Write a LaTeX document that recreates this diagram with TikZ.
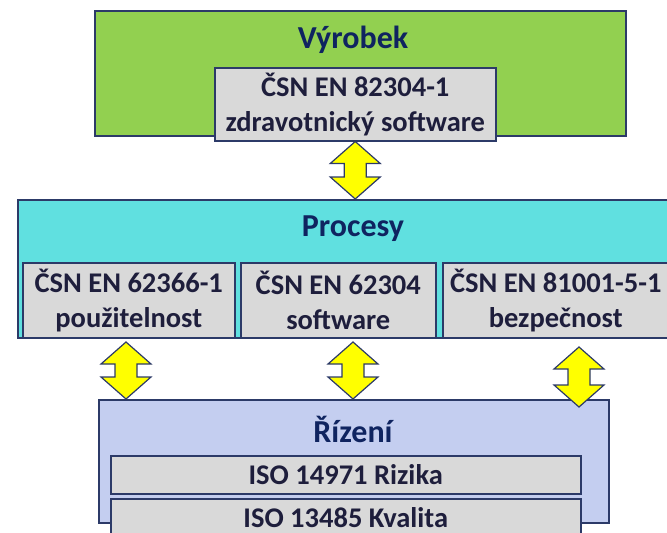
\documentclass[tikz,border=0pt]{standalone}
\usepackage{fontspec}
\setmainfont{Carlito}
\usetikzlibrary{calc}
\definecolor{LineBlue}{HTML}{2C3A68}
\definecolor{TitleBlue}{HTML}{0F2460}
\definecolor{NormText}{HTML}{1E1E3C}
\definecolor{ProductGreen}{HTML}{92D050}
\definecolor{ProcessCyan}{HTML}{60E0E0}
\definecolor{ControlBlue}{HTML}{C4CEF0}
\definecolor{NormGrey}{HTML}{D9D9D9}
\definecolor{ArrowYellow}{HTML}{FFFF00}

\newcommand\UpDownArrow[2]{% #1 top tip, #2 bottom tip
  \draw[ArrowStyle] (#1) -- ($(#1)+(25,22)$) -- ($(#1)+(11,22)$)
    -- ($(#2)+(11,-22)$) -- ($(#2)+(25,-22)$) -- (#2)
    -- ($(#2)+(-25,-22)$) -- ($(#2)+(-11,-22)$)
    -- ($(#1)+(-11,22)$) -- ($(#1)+(-25,22)$) -- cycle;}

\begin{document}
\begin{tikzpicture}[x=1pt,y=-1pt]
  \tikzset{LayerStyle/.style={draw=LineBlue,line width=1.5pt,anchor=north west,inner sep=0pt},
    NormStyle/.style={draw=LineBlue,line width=1.5pt,fill=NormGrey,anchor=north west,
      inner sep=0pt,align=center,text=NormText,font=\bfseries\fontsize{28.5}{35}\selectfont},
    TitleStyle/.style={text=TitleBlue,font=\bfseries\fontsize{32}{36}\selectfont},
    ArrowStyle/.style={draw=LineBlue,line width=1.2pt,fill=ArrowYellow,line join=miter}
  }
  \useasboundingbox (0,0) rectangle (667,533);
  % Vyrobek
  \node[LayerStyle,fill=ProductGreen,minimum width=531pt,minimum height=125pt] (prod) at (94,10) {};
  \node[TitleStyle] (prodtitle) at (353,40) {Výrobek};
  \node[NormStyle,minimum width=281pt,minimum height=73pt] (prodnorm) at (214,67)
    {ČSN EN 82304-1\\zdravotnický software};
  % Procesy
  \node[LayerStyle,fill=ProcessCyan,minimum width=680pt,minimum height=138pt] (proc) at (17,199) {};
  \node[TitleStyle] (proctitle) at (353,229) {Procesy};
  \node[NormStyle,minimum width=212pt,minimum height=75pt] (usab) at (22,262)
    {ČSN EN 62366-1\\použitelnost};
  \node[NormStyle,minimum width=195pt,minimum height=75pt] (soft) at (240,262)
    {ČSN EN 62304\\software};
  \node[NormStyle,minimum width=226pt,minimum height=75pt] (safe) at (442,262)
    {ČSN EN 81001-5-1\\bezpečnost};
  % Rizeni
  \node[LayerStyle,fill=ControlBlue,minimum width=510pt,minimum height=123pt] (ctrl) at (98,399) {};
  \node[TitleStyle] (ctrltitle) at (353,429) {Řízení};
  \node[NormStyle,minimum width=470pt,minimum height=38pt] (risk) at (110,455) {ISO 14971 Rizika};
  \node[NormStyle,minimum width=470pt,minimum height=38pt] (qual) at (110,498) {ISO 13485 Kvalita};
  % arrows
  \coordinate (a0) at (prodnorm.south);
  \coordinate (b0) at (prodnorm.south |- proc.north);
  \coordinate (a1) at (126,342);
  \coordinate (b1) at (a1 |- ctrl.north);
  \coordinate (a2) at (353,342);
  \coordinate (b2) at (a2 |- ctrl.north);
  \coordinate (a3) at (579,347);
  \coordinate (b3) at (579,407);
  \foreach \i in {0,1,2,3} {\UpDownArrow{a\i}{b\i}}
\end{tikzpicture}
\end{document}
